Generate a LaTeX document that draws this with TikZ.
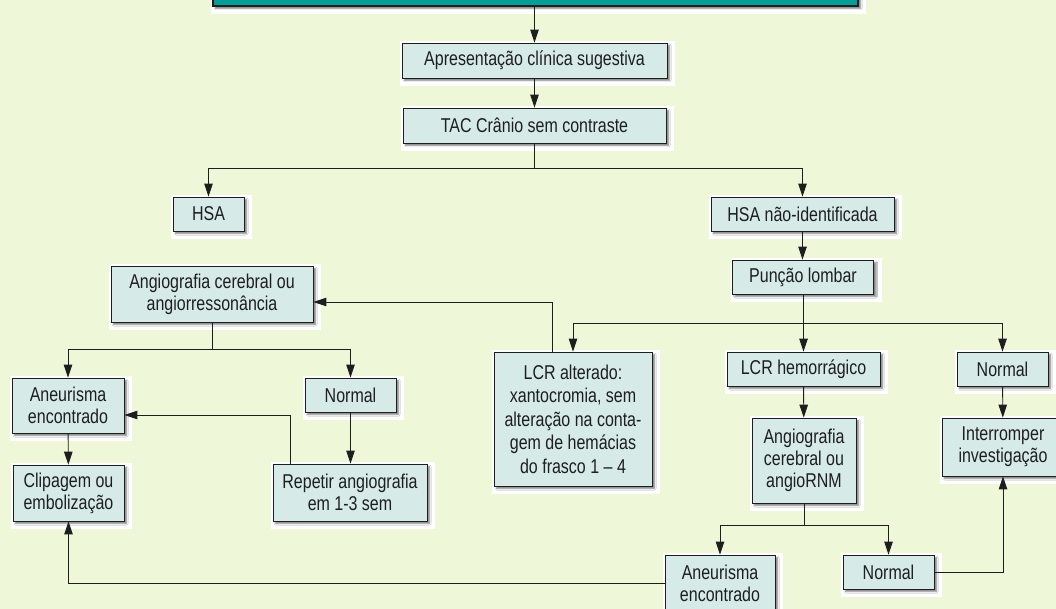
\documentclass[tikz,border=0pt]{standalone}
\usepackage{fontspec}
\setmainfont{Liberation Sans}[FakeStretch=0.8]
\usepackage{tikz}
\usetikzlibrary{arrows.meta, positioning, shadows.blur}
\definecolor{bgcol}{RGB}{238,248,216}
\definecolor{boxcol}{RGB}{214,235,232}
\definecolor{headcol}{RGB}{0,158,150}
\definecolor{inkcol}{RGB}{30,30,30}
\tikzset{
  flow/.style={draw=inkcol, line width=0.8pt, text=inkcol, align=center, inner sep=0pt,
    font=\fontsize{20}{22}\selectfont,
    preaction={draw=white, fill=white, line width=10pt, transform canvas={xshift=3pt, yshift=-3pt}},
    blur shadow={shadow xshift=2.5pt, shadow yshift=-2.5pt, shadow blur steps=4, shadow blur radius=1.5pt, shadow opacity=50}},
  process/.style={flow, fill=boxcol},
  headbox/.style={flow, fill=headcol, line width=1.2pt},
  arrow/.style={-{Triangle[length=13pt, width=8.5pt]}, line width=0.9pt, draw=inkcol}
}

\begin{document}
\begin{tikzpicture}[x=1pt, y=-1pt]
  \path[use as bounding box, fill=bgcol] (0,0) rectangle (1056,609);
  % Nodes
  \node[headbox, minimum width=645pt, minimum height=40pt] (head) at (535.5,-14) {};
  \node[process, minimum width=265pt, minimum height=35pt] (clinic) at (534.5,60.5) {Apresentação clínica sugestiva};
  \node[process, minimum width=263pt, minimum height=35pt] (ct) at (534.5,125.5) {TAC Crânio sem contraste};
  \node[process, minimum width=71pt, minimum height=34pt] (sah) at (208.5,214) {HSA};
  \node[process, minimum width=183pt, minimum height=34pt] (nosah) at (802.5,214) {HSA não-identificada};
  \node[process, minimum width=141pt, minimum height=34pt] (lp) at (803,277) {Punção lombar};
  \node[process, minimum width=202pt, minimum height=56pt] (angio) at (212,294) {Angiografia cerebral ou\\angiorressonância};
  \node[process, minimum width=112pt, minimum height=55pt] (aneur) at (68,405.5) {Aneurisma\\encontrado};
  \node[process, minimum width=91pt, minimum height=34pt] (normA) at (350.5,395) {Normal};
  \node[process, minimum width=111pt, minimum height=56pt] (clip) at (68.5,493) {Clipagem ou\\embolização};
  \node[process, minimum width=154pt, minimum height=57pt] (repeat) at (350,492.5) {Repetir angiografia\\em 1-3 sem};
  \node[process, minimum width=158pt, minimum height=134pt, font=\fontsize{20}{23.5}\selectfont] (xanth) at (573,419)
    {LCR alterado:\\xantocromia, sem\\alteração na conta-\\gem de hemácias\\do frasco 1 – 4};
  \node[process, minimum width=153pt, minimum height=34pt] (bloody) at (803.5,369) {LCR hemorrágico};
  \node[process, minimum width=91pt, minimum height=34pt] (normB) at (1002.5,369) {Normal};
  \node[process, minimum width=104pt, minimum height=85pt] (angioB) at (804,460.5) {Angiografia\\cerebral ou\\angioRNM};
  \node[process, minimum width=122pt, minimum height=58pt] (stop) at (1003,447) {Interromper\\investigação};
  \node[process, minimum width=110pt, minimum height=57pt] (aneurB) at (720,583.5) {Aneurisma\\encontrado};
  \node[process, minimum width=91pt, minimum height=34pt] (normC) at (888.5,572) {Normal};

  % Arrows
  \draw[arrow] (head.south -| clinic.north) -- (clinic.north);
  \draw[arrow] (clinic) -- (ct);
  \draw[arrow] (ct.south) -- ++(0,25) -| (sah.north);
  \draw[arrow] (ct.south) -- ++(0,25) -| (nosah.north);
  \draw[arrow] (nosah.south) -- (nosah.south |- lp.north);
  \draw[arrow] (lp.south) -- ++(0,29) -| (xanth.north);
  \draw[arrow] (lp.south) -- ++(0,29) -| (bloody.north);
  \draw[arrow] (lp.south) -- ++(0,29) -| (normB.north);
  \draw[arrow] ([xshift=-21pt]xanth.north) |- ([yshift=-8pt]angio.east);
  \draw[arrow] (angio.south) -- ++(0,27) -| (aneur.north);
  \draw[arrow] (angio.south) -- ++(0,27) -| (normA.north);
  \draw[arrow] (normA.south) -- (normA.south |- repeat.north);
  \draw[arrow] ([xshift=-60pt]repeat.north) |- ([yshift=-9.5pt]aneur.east);
  \draw[arrow] (aneur) -- (clip);
  \draw[arrow] (aneurB.west) -| (clip.south);
  \draw[arrow] (bloody) -- (angioB);
  \draw[arrow] (angioB.south) -- ++(0,22) -| (aneurB.north);
  \draw[arrow] (angioB.south) -- ++(0,22) -| (normC.north);
  \draw[arrow] (normB) -- (stop);
  \draw[arrow] (normC.east) -| (stop.south);
\end{tikzpicture}
\end{document}
